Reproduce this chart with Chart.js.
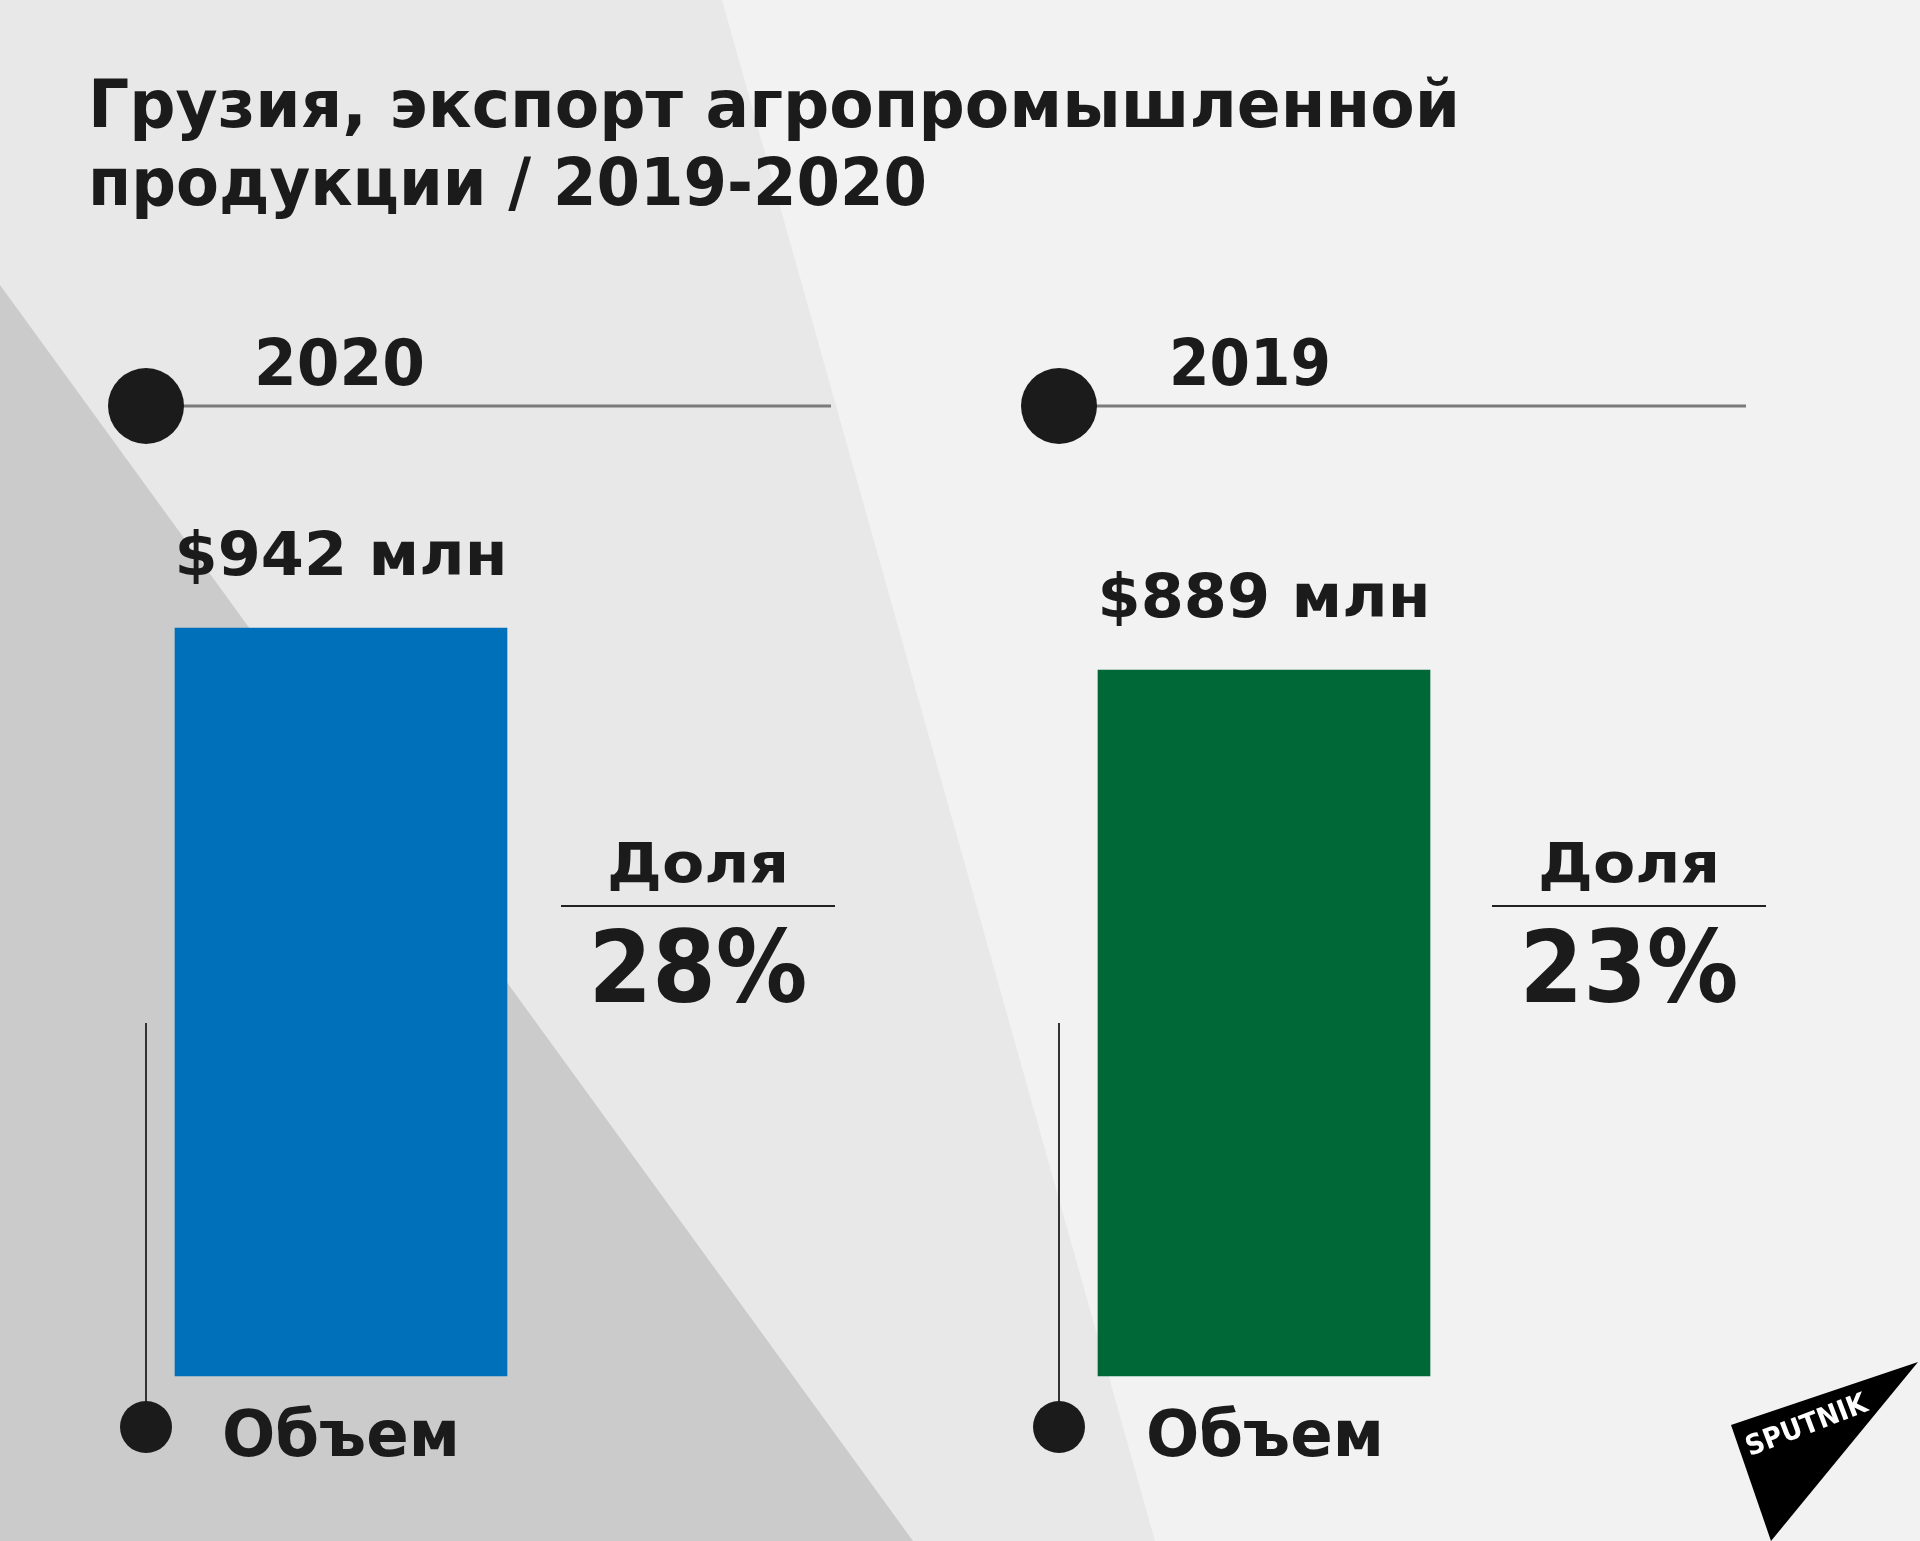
<!DOCTYPE html>
<html>
<head>
<meta charset="utf-8">
<script src="https://cdn.jsdelivr.net/npm/chart.js@4.4.0/dist/chart.umd.min.js"></script>
<style>
  html, body { margin: 0; padding: 0; background: #f2f2f2; }
  #wrap { width: 1920px; height: 1541px; }
</style>
</head>
<body>
<div id="wrap"><canvas id="exportChart" width="1920" height="1541"></canvas></div>
<script>
// data
const years = ['2020', '2019'];
const exportValues = [942, 889];     // млн $
const shareValues = [28, 23];        // доля, %
const barColors = ['#0070bb', '#006837'];
const titleLines = ['Грузия, экспорт агропромышленной', 'продукции / 2019-2020'];

const FONT = '"DejaVu Sans", sans-serif';
const INK = '#1b1b1b';

// horizontal offsets of the decorations, measured from each bar's centre
const markerOff = [-195, -205];
const yearOff = [-87, -95];
const lineEndOff = [490, 482];
const shareOff = [357, 365];
const objemOff = [-119, -118];

// draw bold text squeezed/stretched to a given width
function fitText(ctx, text, x, y, size, w, align, color) {
    ctx.save();
    ctx.font = `bold ${size}px ${FONT}`;
    const m = ctx.measureText(text).width;
    ctx.translate(x, y);
    ctx.scale(w / m, 1);
    ctx.textAlign = align;
    ctx.textBaseline = 'alphabetic';
    ctx.fillStyle = color || INK;
    ctx.fillText(text, 0, 0);
    ctx.restore();
}

function dot(ctx, x, y, r) {
    ctx.beginPath();
    ctx.arc(x, y, r, 0, Math.PI * 2);
    ctx.fillStyle = INK;
    ctx.fill();
}

// 1. BACKGROUND (diagonal grey planes)
const backdrop = {
    id: 'backdrop',
    beforeDraw(chart) {
        const ctx = chart.ctx;
        ctx.save();
        ctx.fillStyle = '#f2f2f2';
        ctx.fillRect(0, 0, 1920, 1541);
        ctx.fillStyle = '#e8e8e8';
        ctx.beginPath();
        ctx.moveTo(0, 0); ctx.lineTo(722, 0); ctx.lineTo(1155, 1541); ctx.lineTo(0, 1541);
        ctx.closePath(); ctx.fill();
        ctx.fillStyle = '#cbcbcb';
        ctx.beginPath();
        ctx.moveTo(0, 285); ctx.lineTo(913, 1541); ctx.lineTo(0, 1541);
        ctx.closePath(); ctx.fill();
        ctx.restore();
    }
};

// 2. LABELS, TIMELINE MARKERS, LOGO
const decorations = {
    id: 'decorations',
    afterDatasetsDraw(chart) {
        const ctx = chart.ctx;
        const bars = chart.getDatasetMeta(0).data;

        titleLines.forEach((t, i) => {
            fitText(ctx, t, 88, 127 + i * 78, 66, i === 0 ? 1372 : 839, 'left');
        });

        bars.forEach((bar, i) => {
            const bx = bar.x;
            const cx = bx + markerOff[i];

            // top marker + line + year
            ctx.save();
            ctx.strokeStyle = '#7a7a7a';
            ctx.lineWidth = 3;
            ctx.beginPath();
            ctx.moveTo(cx, 406); ctx.lineTo(bx + lineEndOff[i], 406);
            ctx.stroke();
            ctx.restore();
            dot(ctx, cx, 406, 38);
            fitText(ctx, years[i], bx + yearOff[i], 385, 64, i === 0 ? 171 : 162, 'left');

            // value above the bar
            fitText(ctx, '$' + exportValues[i] + ' млн', bx, bar.y - 53, 61, 333, 'center');

            // share block
            const sx = bx + shareOff[i];
            fitText(ctx, 'Доля', sx, 882, 55, 182, 'center');
            ctx.save();
            ctx.strokeStyle = '#222';
            ctx.lineWidth = 2;
            ctx.beginPath();
            ctx.moveTo(sx - 137, 906); ctx.lineTo(sx + 137, 906);
            ctx.stroke();
            ctx.restore();
            fitText(ctx, shareValues[i] + '%', sx, 1002, 99, 219, 'center');

            // bottom marker + "Объем"
            ctx.save();
            ctx.strokeStyle = '#333';
            ctx.lineWidth = 2;
            ctx.beginPath();
            ctx.moveTo(cx, 1023); ctx.lineTo(cx, 1420);
            ctx.stroke();
            ctx.restore();
            dot(ctx, cx, 1427, 26);
            fitText(ctx, 'Объем', bx + objemOff[i], 1456, 64, 238, 'left');
        });

        // sputnik logo
        ctx.save();
        ctx.fillStyle = '#000';
        ctx.beginPath();
        ctx.moveTo(1731, 1425); ctx.lineTo(1918, 1362); ctx.lineTo(1771, 1541);
        ctx.closePath(); ctx.fill();
        ctx.translate(1806, 1424);
        ctx.rotate(-21 * Math.PI / 180);
        fitText(ctx, 'SPUTNIK', 0, 10, 28, 128, 'center', '#fff');
        ctx.restore();
    }
};

// 3. CHART
const ctx = document.getElementById('exportChart').getContext('2d');
const exportChart = new Chart(ctx, {
    type: 'bar',
    data: {
        labels: years,
        datasets: [{
            data: exportValues,
            backgroundColor: barColors,
            borderWidth: 0,
            barThickness: 332,
            clip: false
        }]
    },
    options: {
        responsive: false,
        devicePixelRatio: 1,
        animation: false,
        layout: { padding: { left: 341, right: 656, top: 582, bottom: 165 } },
        plugins: { legend: { display: false }, tooltip: { enabled: false } },
        scales: {
            x: { display: false, offset: false },
            y: { display: false, min: 0, max: 1000 }
        }
    },
    plugins: [backdrop, decorations]
});
</script>
</body>
</html>
